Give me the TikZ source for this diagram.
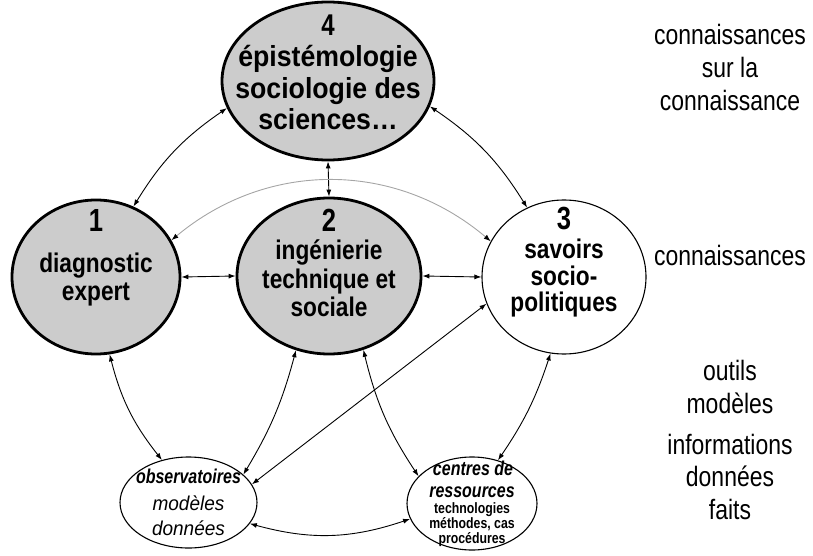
\documentclass[tikz,border=0pt]{standalone}
\usepackage{fontspec}
\setmainfont{Liberation Sans}
\newfontfamily\topf[FakeStretch=0.92]{Liberation Sans}
\newfontfamily\condf[FakeStretch=0.84]{Liberation Sans}
\newfontfamily\numf[FakeStretch=0.8]{Liberation Sans}
\newfontfamily\rightf[FakeStretch=0.82]{Liberation Sans}
\newfontfamily\smallf[FakeStretch=0.8]{Liberation Sans}
\newfontfamily\itemf[FakeStretch=0.95]{Liberation Sans}
\newfontfamily\tinyf[FakeStretch=0.82]{Liberation Sans}
\usetikzlibrary{shapes.geometric,arrows.meta}
\definecolor{nodegray}{RGB}{204,204,204}
\definecolor{arcgray}{RGB}{165,165,165}
\tikzset{
  bignode/.style={ellipse, draw, line width=2.8pt, fill=nodegray, inner sep=0pt},
  opennode/.style={ellipse, draw, line width=1.1pt, fill=white, inner sep=0pt},
  smallnode/.style={ellipse, draw, line width=1.1pt, fill=white, inner sep=0pt},
  numtxt/.style={anchor=base, inner sep=0pt, font=\numf\bfseries\fontsize{32}{32}\selectfont},
  toptxt/.style={anchor=base, inner sep=0pt, font=\topf\bfseries\fontsize{29}{30}\selectfont},
  bodytxt/.style={anchor=base, inner sep=0pt, font=\condf\bfseries\fontsize{27}{29}\selectfont},
  obstitle/.style={anchor=base, inner sep=0pt, font=\smallf\bfseries\itshape\fontsize{20}{22}\selectfont},
  obsitem/.style={anchor=base, inner sep=0pt, font=\itemf\itshape\fontsize{20}{22}\selectfont},
  cenitem/.style={anchor=base, inner sep=0pt, font=\tinyf\bfseries\fontsize{15}{16}\selectfont},
  sidetxt/.style={anchor=base, inner sep=0pt, font=\rightf\fontsize{28}{30}\selectfont},
  link/.style={<->, line width=0.9pt, black},
  faintlink/.style={{Latex[length=7pt,width=5pt,black]}-{Latex[length=7pt,width=5pt,black]}, line width=0.9pt, arcgray},
  >={Latex[length=7pt,width=5pt]}
}
\begin{document}
\begin{tikzpicture}[x=1pt,y=-1pt]
\useasboundingbox (0,0) rectangle (813,556);

% main nodes
\node[bignode, minimum width=212pt, minimum height=158pt] (n4) at (328,81) {};
\node[bignode, minimum width=168pt, minimum height=154pt] (n1) at (96,277) {};
\node[bignode, minimum width=184pt, minimum height=156pt] (n2) at (329,276) {};
\node[opennode, minimum width=164pt, minimum height=154pt] (n3) at (564,277) {};
\node[smallnode, minimum width=137pt, minimum height=91pt] (obs) at (188.5,502.5) {};
\node[smallnode, minimum width=130pt, minimum height=93pt] (cen) at (472,503.5) {};

% texts of node 4
\node[numtxt, font=\numf\bfseries\fontsize{30}{30}\selectfont] (n4num) at (328,36) {4};
\node[toptxt] (n4a) at (328,67) {épistémologie};
\node[toptxt] (n4b) at (328,99) {sociologie des};
\node[toptxt] (n4c) at (328,130) {sciences…};

% texts of node 1
\node[numtxt] (n1num) at (96,231) {1};
\node[bodytxt] (n1a) at (96,272) {diagnostic};
\node[bodytxt] (n1b) at (96,300) {expert};

% texts of node 2
\node[numtxt] (n2num) at (329,231) {2};
\node[bodytxt] (n2a) at (329,259) {ingénierie};
\node[bodytxt] (n2b) at (329,288) {technique et};
\node[bodytxt] (n2c) at (329,316) {sociale};

% texts of node 3
\node[numtxt] (n3num) at (564,229) {3};
\node[bodytxt] (n3a) at (564,258) {savoirs};
\node[bodytxt] (n3b) at (564,285) {socio-};
\node[bodytxt] (n3c) at (564,311) {politiques};

% observatoires
\node[obstitle] (obsa) at (188.5,483) {observatoires};
\node[obsitem] (obsb) at (188.5,510) {modèles};
\node[obsitem] (obsc) at (188.5,535) {données};

% centres de ressources
\node[obstitle] (cena) at (473,475) {centres de};
\node[obstitle] (cenb) at (472,497) {ressources};
\node[cenitem] (cenc) at (472,513) {technologies};
\node[cenitem] (cend) at (472,528) {méthodes, cas};
\node[cenitem] (cene) at (472,543) {procédures};

% right-hand texts
\node[sidetxt] (r1) at (730,45) {connaissances};
\node[sidetxt] (r2) at (730,78) {sur la};
\node[sidetxt] (r3) at (730,111) {connaissance};
\node[sidetxt] (r4) at (730,265) {connaissances};
\node[sidetxt] (r5) at (730,380) {outils};
\node[sidetxt] (r6) at (730,413) {modèles};
\node[sidetxt] (r7) at (730,454) {informations};
\node[sidetxt] (r8) at (730,486) {données};
\node[sidetxt] (r9) at (730,519) {faits};

% connectors
\draw[link] (n4.195) to[bend right=12] (n1.62);
\draw[link] (n4.346) to[bend left=12] (n3.118);
\draw[link] (n4.south) -- (n2.north);
\draw[link] (n1.east) -- (n2.west);
\draw[link] (n2.east) -- (n3.west);
\draw[faintlink] (n1.26) to[bend left=40] (n3.154);
\draw[link] (n1.280) to[bend right=12] (obs.122);
\draw[link] (n2.246) to[bend left=8] (obs.27);
\draw[link] (n3.199) -- (obs.16);
\draw[link] (n2.295) to[bend right=10] (cen.153);
\draw[link] (n3.260) to[bend left=8] (cen.59);
\draw[link] (obs.341) to[bend right=17] (cen.194);
\end{tikzpicture}
\end{document}
